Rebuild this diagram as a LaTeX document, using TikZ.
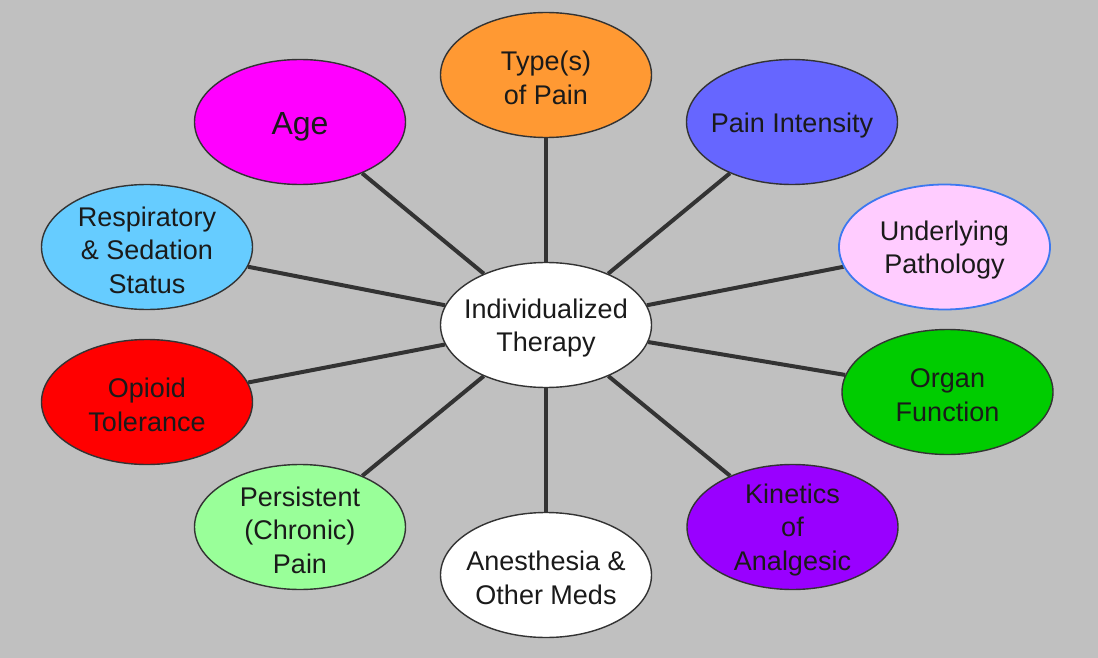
\documentclass[tikz,border=0pt]{standalone}
\usepackage{fontspec}
\setmainfont{Liberation Sans}
\usetikzlibrary{shapes.geometric,backgrounds}
\definecolor{bgc}{HTML}{C0C0C0}
\definecolor{edgec}{HTML}{333333}
\definecolor{spokec}{HTML}{333333}
\definecolor{txtc}{HTML}{1A1A1A}
\definecolor{cType}{HTML}{FF9933}
\definecolor{cAge}{HTML}{FF00FF}
\definecolor{cInt}{HTML}{6666FF}
\definecolor{cResp}{HTML}{66CCFF}
\definecolor{cPath}{HTML}{FFCCFF}
\definecolor{cPathEdge}{HTML}{3C78F0}
\definecolor{cOpi}{HTML}{FF0000}
\definecolor{cOrg}{HTML}{00CC00}
\definecolor{cPers}{HTML}{99FF99}
\definecolor{cKin}{HTML}{9900FF}
\begin{document}
\begin{tikzpicture}[x=1pt,y=-1pt,
  bubble/.style={ellipse, draw=edgec, line width=1.4pt, minimum width=211pt, minimum height=125pt, inner sep=0pt},
  lbl/.style={font=\fontsize{27}{33.5}\selectfont, align=center, text=txtc, inner sep=0pt, yshift=-3pt},
  biglbl/.style={font=\fontsize{32}{38}\selectfont, align=center, text=txtc, inner sep=0pt, yshift=-5pt},
  spoke/.style={line width=4pt, draw=spokec}]
\useasboundingbox (0,0) rectangle (1098,658);
% ellipses
\node[bubble, fill=white] (hub) at (546,325) {};
\node[bubble, fill=cType] (type) at (546,75) {};
\node[bubble, fill=cAge] (age) at (300,122) {};
\node[bubble, fill=cInt] (int) at (792,122) {};
\node[bubble, fill=cResp] (resp) at (147,247) {};
\node[bubble, fill=cPath, draw=cPathEdge, line width=1.8pt] (path) at (944.5,247) {};
\node[bubble, fill=cOpi] (opi) at (147,402) {};
\node[bubble, fill=cOrg] (org) at (947.5,392) {};
\node[bubble, fill=cPers] (pers) at (300,527) {};
\node[bubble, fill=white] (anes) at (546,575) {};
\node[bubble, fill=cKin] (kin) at (792.5,527) {};
% connectors behind
\begin{scope}[on background layer]
  \fill[bgc] (0,0) rectangle (1098,658);
  \foreach \t in {type,age,int,resp,path,opi,org,pers,anes,kin}
    \draw[spoke] (hub) -- (\t);
\end{scope}
% texts
\node[lbl] (hubt) at (hub) {Individualized\\Therapy};
\node[lbl] (typet) at (type) {Type(s)\\of Pain};
\node[biglbl] (aget) at (age) {Age};
\node[lbl, yshift=-1pt] (intt) at (int) {Pain Intensity};
\node[lbl] (respt) at (resp) {Respiratory\\\& Sedation\\Status};
\node[lbl] (patht) at (path) {Underlying\\Pathology};
\node[lbl] (opit) at (opi) {Opioid\\Tolerance};
\node[lbl] (orgt) at (org) {Organ\\Function};
\node[lbl] (perst) at (pers) {Persistent\\(Chronic)\\Pain};
\node[lbl] (anest) at (anes) {Anesthesia \&\\Other Meds};
\node[lbl] (kint) at (kin) {Kinetics\\of\\Analgesic};
\end{tikzpicture}
\end{document}
